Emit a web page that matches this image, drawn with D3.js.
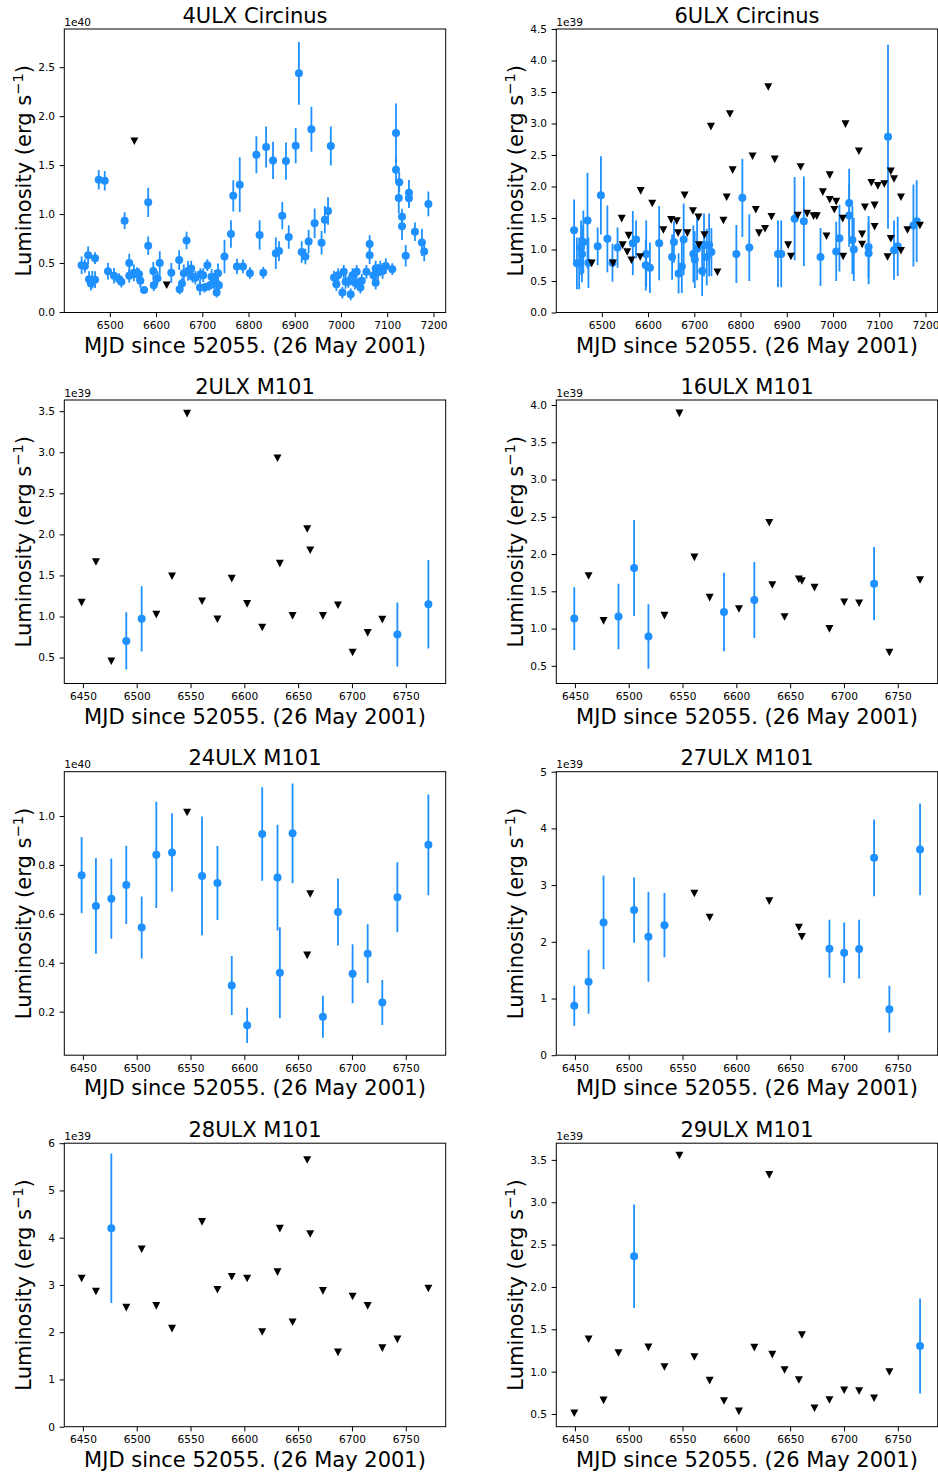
<!DOCTYPE html>
<html><head><meta charset="utf-8">
<script src="https://cdn.jsdelivr.net/npm/d3@7"></script>
<style>body{margin:0;background:#fff} svg{display:block} text{font-family:"DejaVu Sans",sans-serif;fill:#000}</style>
</head><body><svg id="c" width="938" height="1472"></svg>
<script>
// ---------- tick labels ----------
const xTicksCirc = [6500,6600,6700,6800,6900,7000,7100,7200];
const xTicksM101 = [6450,6500,6550,6600,6650,6700,6750];
const yTicks4ULX  = [0.0,0.5,1.0,1.5,2.0,2.5];
const yTicks6ULX  = [0.0,0.5,1.0,1.5,2.0,2.5,3.0,3.5,4.0,4.5];
const yTicks2ULX  = [0.5,1.0,1.5,2.0,2.5,3.0,3.5];
const yTicks16ULX = [0.5,1.0,1.5,2.0,2.5,3.0,3.5,4.0];
const yTicks24ULX = [0.2,0.4,0.6,0.8,1.0];
const yTicks27ULX = [0,1,2,3,4,5];
const yTicks28ULX = [0,1,2,3,4,5,6];
const yTicks29ULX = [0.5,1.0,1.5,2.0,2.5,3.0,3.5];

// ---------- 4ULX Circinus (units 1e40) ----------
const c4DetMjd = [6439,6446,6453,6455,6459,6462,6468,6468,6476,6489,
 6496,6509,6520,6525,6532,6542,6542,6552,6559,6563,
 6566,6574,6583,6583,6594,6595,6603,6608,6633,6650,
 6651,6656,6660,6666,6669,6676,6679,6685,6695,6696,
 6702,6705,6711,6715,6720,6724,6727,6731,6734,6736,
 6748,6762,6767,6775,6781,6788,6803,6817,6824,6832,
 6838,6853,6859,6866,6873,6881,6887,6902,6909,6915,
 6923,6930,6936,6943,6958,6965,6972,6978,6985,6990,
 6994,7003,7006,7010,7016,7021,7025,7030,7034,7037,
 7042,7045,7055,7062,7062,7070,7075,7075,7080,7085,
 7090,7097,7111,7119,7119,7126,7125,7132,7132,7140,
 7147,7147,7160,7175,7180,7189];
const c4DetLum = [0.478,0.47,0.58,0.335,0.29,0.33,0.55,0.33,1.35,1.34,
 0.417,0.37,0.335,0.31,0.933,0.5,0.37,0.40,0.386,0.386,
 0.318,0.226,1.12,0.677,0.42,0.273,0.345,0.5,0.40,0.53,
 0.232,0.29,0.396,0.73,0.42,0.444,0.36,0.35,0.25,0.386,
 0.376,0.25,0.478,0.267,0.36,0.30,0.33,0.198,0.396,0.273,
 0.567,0.796,1.186,0.465,1.30,0.465,0.396,1.606,0.786,0.40,
 1.685,1.548,0.60,0.622,0.984,1.541,0.766,1.699,2.437,0.612,
 0.567,0.721,1.866,0.906,0.707,0.943,1.032,1.695,0.352,0.284,
 0.376,0.198,0.41,0.308,0.308,0.181,0.376,0.30,0.41,0.284,
 0.25,0.318,0.41,0.694,0.58,0.376,0.30,0.444,0.41,0.444,
 0.42,0.47,0.437,1.828,1.452,1.326,1.165,0.974,0.875,0.574,
 1.217,1.162,0.82,0.711,0.619,1.104];
const c4DetErr = [0.09,0.07,0.09,0.08,0.07,0.09,0.06,0.085,0.10,0.10,
 0.085,0.08,0.06,0.06,0.085,0.095,0.07,0.085,0.07,0.06,
 0.07,0.03,0.15,0.095,0.09,0.06,0.07,0.12,0.10,0.10,
 0.05,0.06,0.09,0.09,0.10,0.08,0.06,0.07,0.08,0.06,
 0.07,0.05,0.06,0.05,0.08,0.06,0.10,0.05,0.10,0.05,
 0.17,0.14,0.16,0.08,0.28,0.07,0.06,0.19,0.15,0.06,
 0.21,0.19,0.16,0.10,0.14,0.19,0.12,0.18,0.32,0.11,
 0.08,0.12,0.23,0.15,0.12,0.14,0.14,0.20,0.07,0.07,
 0.07,0.06,0.07,0.07,0.06,0.06,0.07,0.07,0.07,0.06,
 0.06,0.07,0.07,0.09,0.09,0.08,0.07,0.08,0.08,0.08,
 0.08,0.08,0.06,0.30,0.13,0.10,0.16,0.08,0.14,0.11,
 0.13,0.10,0.095,0.14,0.10,0.126];
const c4LimMjd = [6553,6623];
const c4LimLum = [1.743,0.273];

// ---------- 6ULX Circinus (units 1e39) ----------
const c6DetMjd = [6440,6446,6451,6455,6457,6460,6469,6471,6491,6498,
 6512,6523,6534,6567,6574,6596,6595,6604,6624,6652,
 6656,6666,6673,6677,6698,6701,6706,6717,6721,6727,
 6732,6737,6791,6804,6819,6881,6888,6917,6937,6973,
 7007,7014,7035,7035,7042,7045,7077,7077,7119,7132,
 7140,7174,7181];
const c6DetLum = [1.305,0.78,0.78,1.03,0.93,1.12,1.46,0.79,1.05,1.86,
 1.17,0.79,1.03,1.1,1.16,0.93,0.75,0.71,1.1,0.88,
 1.12,0.62,0.73,1.16,0.93,0.84,1.01,0.66,1.07,0.88,
 1.07,0.96,0.93,1.82,1.03,0.93,0.93,1.49,1.45,0.88,
 0.97,1.18,1.74,1.54,1.15,1.0,1.04,0.94,2.79,0.99,
 1.05,1.38,1.45];
const c6DetErr = [0.49,0.41,0.41,0.43,0.45,0.5,0.76,0.4,0.3,0.62,
 0.53,0.3,0.32,0.51,0.3,0.53,0.4,0.4,0.59,0.36,
 0.33,0.32,0.42,0.57,0.45,0.45,0.5,0.4,0.5,0.45,
 0.5,0.38,0.46,0.62,0.53,0.53,0.53,0.66,0.71,0.46,
 0.47,0.53,0.54,0.5,0.54,0.5,0.49,0.49,1.46,0.47,
 0.47,0.65,0.65];
const c6LimMjd = [6478,6524,6543,6545,6555,6558,6564,6583,6584,6609,
 6633,6650,6662,6665,6679,6685,6697,6709,6710,6722,
 6736,6750,6763,6770,6777,6783,6826,6833,6840,6853,
 6860,6867,6874,6903,6909,6924,6930,6944,6958,6965,
 6978,6986,6993,6993,7007,7003,7021,7022,7027,7056,
 7063,7063,7069,7083,7090,7090,7097,7111,7118,7125,
 7125,7132,7147,7147,7161,7188];
const c6LimLum = [0.78,0.78,1.49,1.07,0.96,1.22,0.83,0.88,1.93,1.73,
 1.31,1.47,1.45,1.26,1.86,1.26,1.61,1.51,1.07,1.23,
 2.95,0.64,1.46,1.83,3.15,2.26,2.48,1.63,1.26,1.33,
 3.58,1.52,2.43,1.07,0.89,1.54,2.31,1.57,1.53,1.53,
 1.91,1.21,2.18,1.79,1.76,1.63,1.49,0.89,2.99,2.56,
 1.24,1.08,1.67,2.06,1.7,1.36,2.01,2.04,0.88,2.24,
 1.17,2.12,1.83,0.98,1.31,1.38];

// ---------- 2ULX M101 (1e39) ----------
const m2DetMjd = [6490.3,6504.6,6742.2,6771.0];
const m2DetLum = [0.703,0.971,0.78,1.149];
const m2DetErr = [0.35,0.396,0.39,0.54];
const m2LimMjd = [6448.8,6462.1,6476.4,6518.2,6532.8,6546.8,6560.7,6575.0,6588.3,6602.6,6616.6,6630.8,6633.0,6644.8,6658.4,6661.2,6673.0,6687.0,6700.6,6714.6,6728.2];
const m2LimLum = [1.169,1.664,0.455,1.023,1.49,3.47,1.186,0.967,1.461,1.153,0.865,2.926,1.644,1.007,2.066,1.806,1.007,1.137,0.561,0.80,0.962];

// ---------- 16ULX M101 (1e39) ----------
const m16DetMjd = [6449.4,6490.5,6505.0,6518.3,6588.5,6616.7,6728.0];
const m16DetLum = [1.134,1.161,1.813,0.893,1.223,1.384,1.603];
const m16DetErr = [0.42,0.44,0.643,0.433,0.527,0.509,0.491];
const m16LimMjd = [6462.7,6476.6,6533.2,6547.1,6561.0,6575.2,6602.4,6630.6,6633.4,6644.8,6658.1,6660.9,6672.6,6686.5,6700.2,6714.1,6742.2,6770.7];
const m16LimLum = [1.705,1.103,1.174,3.888,1.955,1.415,1.263,2.42,1.585,1.156,1.661,1.638,1.549,0.996,1.353,1.339,0.679,1.652];

// ---------- 24ULX M101 (1e40) ----------
const m24DetMjd = [6448.8,6462.1,6476.4,6490.3,6504.6,6518.2,6532.8,6560.7,6575.0,6588.3,6602.6,6616.6,6630.8,6633.0,6644.8,6673.0,6687.0,6700.6,6714.6,6728.2,6742.2,6771.0];
const m24DetLum = [0.758,0.632,0.662,0.718,0.544,0.841,0.851,0.755,0.726,0.307,0.144,0.926,0.748,0.359,0.929,0.179,0.607,0.355,0.437,0.237,0.668,0.882];
const m24DetErr = [0.156,0.195,0.164,0.16,0.127,0.217,0.16,0.243,0.151,0.121,0.072,0.191,0.216,0.186,0.204,0.086,0.137,0.121,0.12,0.092,0.143,0.206];
const m24LimMjd = [6546.8,6658.4,6661.2];
const m24LimLum = [1.014,0.43,0.681];

// ---------- 27ULX M101 (1e39) ----------
const m27DetMjd = [6449.4,6462.7,6476.6,6505.0,6518.3,6533.2,6686.5,6700.2,6714.1,6728.0,6742.2,6770.7];
const m27DetLum = [0.871,1.294,2.341,2.559,2.088,2.294,1.876,1.806,1.871,3.482,0.812,3.629];
const m27DetErr = [0.353,0.565,0.827,0.574,0.794,0.568,0.512,0.533,0.52,0.677,0.412,0.809];
const m27LimMjd = [6561.0,6575.2,6630.6,6658.1,6660.9];
const m27LimLum = [2.853,2.429,2.718,2.253,2.088];

// ---------- 28ULX M101 (1e39) ----------
const m28DetMjd = [6476.4];
const m28DetLum = [4.2];
const m28DetErr = [1.58];
const m28LimMjd = [6448.8,6462.1,6490.3,6504.6,6518.2,6532.8,6560.7,6575.0,6588.3,6602.6,6616.6,6630.8,6633.0,6644.8,6658.4,6661.2,6673.0,6687.0,6700.6,6714.6,6728.2,6742.2,6771.0];
const m28LimLum = [3.137,2.861,2.521,3.754,2.557,2.075,4.334,2.897,3.173,3.137,2.004,3.272,4.193,2.21,5.645,4.079,2.875,1.572,2.755,2.557,1.664,1.848,2.925];

// ---------- 29ULX M101 (1e39) ----------
const m29DetMjd = [6505.0,6770.7];
const m29DetLum = [2.362,1.303];
const m29DetErr = [0.61,0.56];
const m29LimMjd = [6449.4,6462.7,6476.6,6490.5,6518.3,6533.2,6547.1,6561.0,6575.2,6588.5,6602.4,6616.7,6630.6,6633.4,6644.8,6658.1,6660.9,6672.6,6686.5,6700.2,6714.1,6728.0,6742.2];
const m29LimLum = [0.508,1.382,0.661,1.22,1.287,1.055,3.551,1.173,0.894,0.654,0.531,1.283,3.323,1.201,1.02,0.902,1.433,0.567,0.665,0.78,0.772,0.685,0.996];

// ---------- panel table ----------
const panels = [
 {title:"4ULX Circinus", col:0,row:0, xd:[6401.5,7226.5], yd:[-0.005,2.89], xt:xTicksCirc, yt:yTicks4ULX, fmt:".1f", off:"1e40",
  dx:c4DetMjd, dy:c4DetLum, de:c4DetErr, lx:c4LimMjd, ly:c4LimLum},
 {title:"6ULX Circinus", col:1,row:0, xd:[6401.5,7226.5], yd:[0,4.5], xt:xTicksCirc, yt:yTicks6ULX, fmt:".1f", off:"1e39",
  dx:c6DetMjd, dy:c6DetLum, de:c6DetErr, lx:c6LimMjd, ly:c6LimLum},
 {title:"2ULX M101", col:0,row:1, xd:[6432.7,6787.1], yd:[0.184,3.636], xt:xTicksM101, yt:yTicks2ULX, fmt:".1f", off:"1e39",
  dx:m2DetMjd, dy:m2DetLum, de:m2DetErr, lx:m2LimMjd, ly:m2LimLum},
 {title:"16ULX M101", col:1,row:1, xd:[6432.7,6787.1], yd:[0.263,4.067], xt:xTicksM101, yt:yTicks16ULX, fmt:".1f", off:"1e39",
  dx:m16DetMjd, dy:m16DetLum, de:m16DetErr, lx:m16LimMjd, ly:m16LimLum},
 {title:"24ULX M101", col:0,row:2, xd:[6432.7,6787.1], yd:[0.022,1.181], xt:xTicksM101, yt:yTicks24ULX, fmt:".1f", off:"1e40",
  dx:m24DetMjd, dy:m24DetLum, de:m24DetErr, lx:m24LimMjd, ly:m24LimLum},
 {title:"27ULX M101", col:1,row:2, xd:[6432.7,6787.1], yd:[0,5], xt:xTicksM101, yt:yTicks27ULX, fmt:"d", off:"1e39",
  dx:m27DetMjd, dy:m27DetLum, de:m27DetErr, lx:m27LimMjd, ly:m27LimLum},
 {title:"28ULX M101", col:0,row:3, xd:[6432.7,6787.1], yd:[0,6], xt:xTicksM101, yt:yTicks28ULX, fmt:"d", off:"1e39",
  dx:m28DetMjd, dy:m28DetLum, de:m28DetErr, lx:m28LimMjd, ly:m28LimLum},
 {title:"29ULX M101", col:1,row:3, xd:[6432.7,6787.1], yd:[0.35,3.697], xt:xTicksM101, yt:yTicks29ULX, fmt:".1f", off:"1e39",
  dx:m29DetMjd, dy:m29DetLum, de:m29DetErr, lx:m29LimMjd, ly:m29LimLum}
];

// ---------- drawing ----------
const svg = d3.select("#c");
const colX = [64.3, 556.3], rowY = [29, 400, 771.7, 1143.2];
const PW = 381.4, PH = 283.5;
const BLUE = "#1e90ff";
const tri = "M-4,-3.8L4,-3.8L0,3.8Z";

panels.forEach((p, k) => {
  const g = svg.append("g").attr("transform", `translate(${colX[p.col]},${rowY[p.row]})`);
  const x = d3.scaleLinear().domain(p.xd).range([0, PW]);
  const y = d3.scaleLinear().domain(p.yd).range([PH, 0]);

  g.append("clipPath").attr("id", "cp" + k).append("rect").attr("width", PW).attr("height", PH);

  const xa = g.append("g").attr("transform", `translate(0,${PH})`)
    .call(d3.axisBottom(x).tickValues(p.xt).tickSize(4.7).tickPadding(4.5).tickFormat(d3.format("d")));
  const ya = g.append("g")
    .call(d3.axisLeft(y).tickValues(p.yt).tickSize(4.7).tickPadding(4.5).tickFormat(d3.format(p.fmt)));
  [xa, ya].forEach(a => {
    a.select(".domain").remove();
    a.selectAll("line").attr("stroke", "#000").attr("stroke-width", 1);
    a.selectAll("text").attr("font-size", "10.6px").attr("font-family", "DejaVu Sans").attr("fill", "#000");
  });

  const plot = g.append("g").attr("clip-path", `url(#cp${k})`);
  const idx = d3.range(p.dx.length);
  plot.selectAll("line.eb").data(idx).join("line").attr("class", "eb")
    .attr("x1", i => x(p.dx[i])).attr("x2", i => x(p.dx[i]))
    .attr("y1", i => y(p.dy[i] - p.de[i])).attr("y2", i => y(p.dy[i] + p.de[i]))
    .attr("stroke", BLUE).attr("stroke-width", 1.8);
  plot.selectAll("circle").data(idx).join("circle")
    .attr("cx", i => x(p.dx[i])).attr("cy", i => y(p.dy[i])).attr("r", 4).attr("fill", BLUE);
  plot.selectAll("path.lim").data(d3.range(p.lx.length)).join("path").attr("class", "lim")
    .attr("d", tri).attr("transform", i => `translate(${x(p.lx[i])},${y(p.ly[i])})`).attr("fill", "#000");

  g.append("rect").attr("width", PW).attr("height", PH).attr("fill", "none")
    .attr("stroke", "#000").attr("stroke-width", 1);

  g.append("text").attr("x", PW / 2).attr("y", -6.5).attr("text-anchor", "middle")
    .attr("font-size", "21px").text(p.title);
  g.append("text").attr("x", 0).attr("y", -3.5).attr("font-size", "10.6px").text(p.off);
  g.append("text").attr("x", PW / 2).attr("y", PH + 40).attr("text-anchor", "middle")
    .attr("font-size", "21px").text("MJD since 52055. (26 May 2001)");
  const yl = g.append("text").attr("transform", `translate(-33.3,${PH / 2}) rotate(-90)`)
    .attr("text-anchor", "middle").attr("font-size", "21px");
  yl.append("tspan").text("Luminosity (erg s");
  yl.append("tspan").attr("dy", -8).attr("font-size", "14.7px").text("\u22121");
  yl.append("tspan").attr("dy", 8).text(")");
});
</script></body></html>
